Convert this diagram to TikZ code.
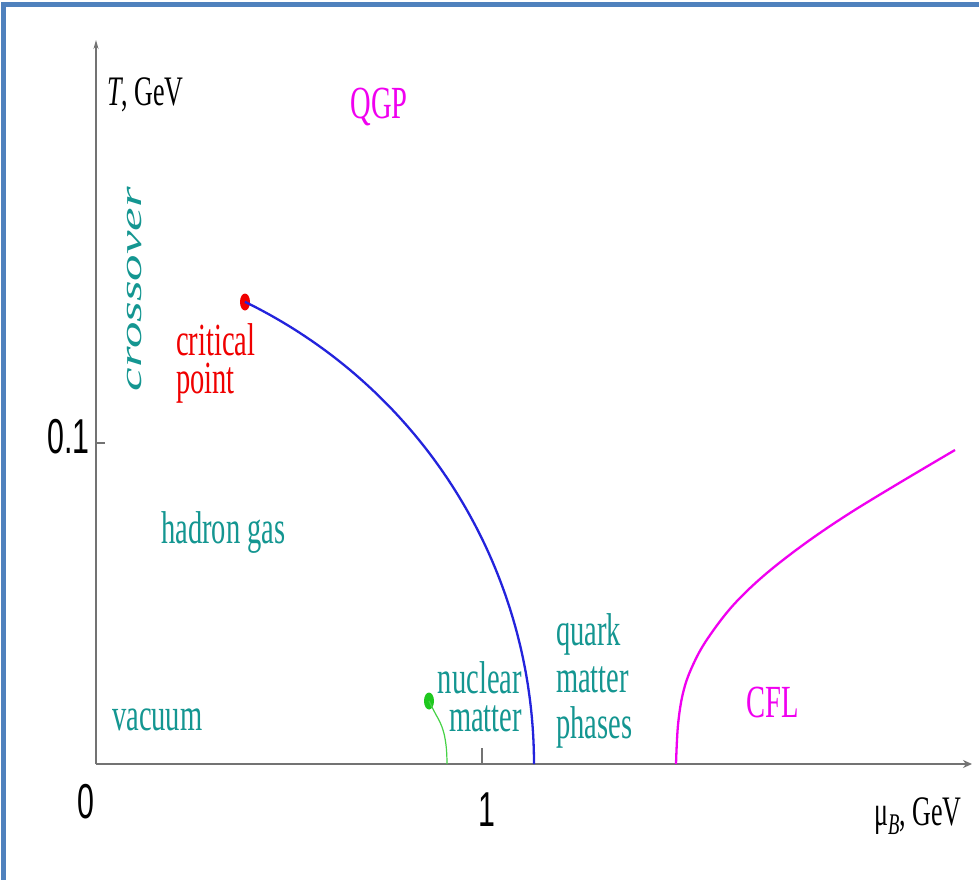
\documentclass[tikz,border=0pt]{standalone}
\usepackage{fontspec}
\setmainfont{Liberation Serif}
\newfontfamily\numfont{Liberation Sans}
\usetikzlibrary{arrows.meta,shapes.geometric}
\definecolor{frameblue}{RGB}{79,129,189}
\definecolor{tealtxt}{RGB}{20,150,145}
\definecolor{magtxt}{RGB}{240,0,240}
\definecolor{redpt}{RGB}{240,0,0}
\definecolor{bluecurve}{RGB}{35,35,220}
\definecolor{greencurve}{RGB}{70,210,70}
\definecolor{greenpt}{RGB}{30,200,30}
\definecolor{axisgray}{RGB}{115,115,115}
\tikzset{
  lbl/.style={inner sep=0pt, xscale=0.62, transform shape, font=\fontsize{46}{38}\selectfont},
  axlbl/.style={inner sep=0pt, xscale=0.62, transform shape, font=\fontsize{42}{42}\selectfont, text=black},
  numlbl/.style={inner sep=0pt, xscale=0.62, transform shape, font=\numfont\fontsize{49}{49}\selectfont, text=black},
  dotpt/.style={ellipse, minimum width=10pt, minimum height=17pt, inner sep=0pt, draw=none},
  axisline/.style={draw=axisgray},
}
\begin{document}
\begin{tikzpicture}[x=1pt,y=-1pt]
\useasboundingbox (0,0) rectangle (979,880);
\fill[white] (0,0) rectangle (979,880);
% frame (left and top edges)
\draw[frameblue, line width=5pt] (3.5,880) -- (3.5,4.5) -- (979,4.5);
% axes
\coordinate (O) at (96,764);
\coordinate (ytop) at (96,40);
\coordinate (xend) at (972,764);
\draw[axisline, line width=1.3pt, -{Stealth[length=9pt,width=5pt]}] (O) -- (ytop);
\draw[axisline, line width=2.8pt, -{Stealth[length=9pt,width=8pt]}] (O) -- (xend);
% ticks
\coordinate (t01a) at (96,443);
\coordinate (t01b) at (105,443);
\draw[axisline, line width=1.3pt] (t01a) -- (t01b);
\coordinate (t1a) at (482,764);
\coordinate (t1b) at (482,748);
\draw[axisline, line width=1.3pt] (t1a) -- (t1b);
% axis labels
\node[axlbl, anchor=base west] (Tlbl) at (107,106) {\textit{T}, GeV};
\node[axlbl, anchor=base west] (mulbl) at (874,825) {μ\raisebox{-0.22em}{\fontsize{30}{30}\selectfont\itshape B}, GeV};
\node[numlbl] (zero) at (86,802) {0};
\node[numlbl] (one) at (487,810) {1};
\node[numlbl, anchor=east] (pointone) at (90,437) {0.1};
% blue transition line from critical point
\node[dotpt, fill=redpt] (cp) at (245,302) {};
\draw[bluecurve, line width=2.3pt] plot[domain=64.05:0, samples=60, smooth] ({20+514*cos(\x)},{764-514*sin(\x)});
% magenta CFL line
\draw[magtxt, line width=2.3pt] plot[smooth, tension=0.6] coordinates {(676,764) (678,725) (683,693) (692,667) (708,638) (738,600) (783,560) (850,513) (955,450)};
% green nuclear line
\node[dotpt, fill=greenpt] (np) at (429,701) {};
\draw[greencurve, line width=1.2pt] plot[smooth, tension=0.7] coordinates {(429,701) (434,711) (442,727) (446,745) (447,764)};
% region labels
\node[lbl, text=magtxt, anchor=base] (qgp) at (379,118) {QGP};
\node[inner sep=0pt, text=tealtxt, font=\fontsize{53}{53}\selectfont\itshape, xscale=0.57, rotate=90, transform shape] (cross) at (134.5,289) {crossover};
\node[lbl, text=redpt, anchor=west, align=left] (cplbl) at (176,363) {critical\\point};
\node[lbl, text=tealtxt, anchor=base west] (hadron) at (161,543) {hadron gas};
\node[lbl, text=tealtxt, anchor=base west] (vac) at (112,730) {vacuum};
\node[lbl, text=tealtxt, anchor=east, align=right] (nuc) at (522,697) {nuclear\\matter};
\node[lbl, text=tealtxt, anchor=west, align=left, font=\fontsize{46}{46.5}\selectfont] (qm) at (556,681) {quark\\matter\\phases};
\node[lbl, text=magtxt, anchor=base west] (cfl) at (746,717) {CFL};
\end{tikzpicture}
\end{document}
